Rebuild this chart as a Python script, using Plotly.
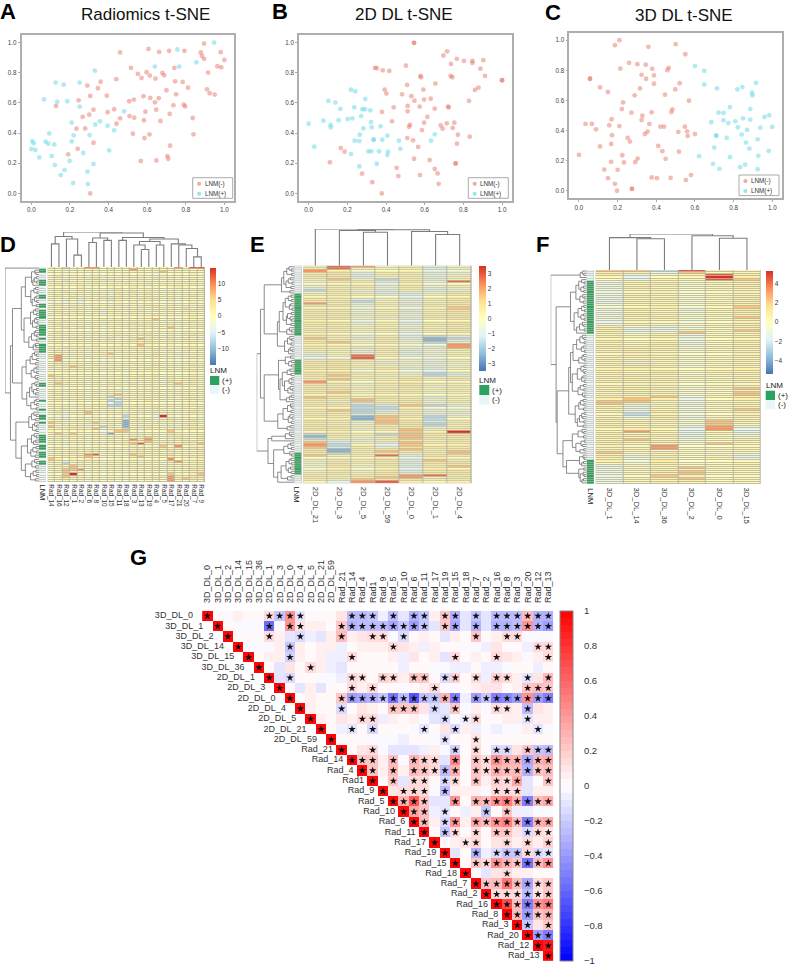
import plotly.graph_objects as go

W, H = 789, 966

# ---------- t-SNE data ----------
A_NEG = [(.895,.993),(.607,.958),(.46,.934),(.662,.938),(.714,.945),(.793,.945),(.878,.934),(.884,.912),(.895,.892),(.981,.936),(1.0,.885),(.964,.843),(.984,.836),(.916,.801),(.516,.832),(.741,.832),(.552,.792),(.597,.803),(.614,.781),(.571,.765),(.643,.761),(.679,.799),(.688,.783),(.745,.743),(.784,.739),(.812,.701),(.91,.69),(.924,.664),(.95,.655),(.359,.741),(.44,.757),(.345,.697),(.29,.715),(.305,.646),(.391,.648),(.245,.617),(.128,.58),(.322,.555),(.395,.538),(.429,.558),(.3,.522),(.266,.507),(.46,.498),(.507,.611),(.531,.622),(.581,.644),(.616,.633),(.66,.631),(.64,.604),(.7,.684),(.75,.657),(.736,.584),(.79,.588),(.797,.577),(.647,.555),(.591,.542),(.509,.513),(.533,.502),(.583,.485),(.669,.48),(.717,.527),(.836,.5),(.234,.429),(.279,.431),(.441,.462),(.526,.396),(.586,.367),(.612,.392),(.84,.392),(.322,.336),(.24,.296),(.191,.259),(.719,.316),(.705,.248),(.709,.23),(.567,.215),(.648,.219),(.305,0)]
A_POS = [(.947,1.0),(.757,.954),(.855,.869),(.64,.841),(.766,.841),(.329,.814),(.126,.735),(.167,.721),(.25,.735),(.066,.624),(.134,.608),(.186,.611),(.25,.575),(.481,.544),(.209,.469),(.355,.478),(.331,.456),(.395,.449),(.429,.418),(.219,.385),(.093,.398),(.302,.387),(.209,.345),(.005,.347),(.012,.332),(.074,.343),(.088,.33),(.119,.325),(0,.294),(.021,.288),(.041,.239),(.105,.248),(.403,.285),(.269,.268),(.122,.188),(.198,.215),(.322,.195),(.172,.155),(.152,.122),(.291,.144),(.216,.069),(.293,.062)]
B_NEG = [(.545,.998),(.545,.998),(.716,.942),(.697,.914),(.766,.892),(.736,.858),(.803,.878),(.847,.878),(.847,.865),(.903,.883),(.888,.827),(.912,.779),(1.0,.75),(1.0,.75),(.878,.701),(.86,.686),(.829,.613),(.343,.832),(.352,.83),(.383,.816),(.417,.812),(.503,.847),(.578,.779),(.581,.77),(.734,.779),(.743,.77),(.655,.728),(.509,.719),(.393,.688),(.402,.662),(.593,.688),(.483,.657),(.531,.644),(.547,.615),(.597,.622),(.631,.628),(.44,.571),(.512,.58),(.512,.544),(.574,.575),(.652,.562),(.721,.575),(.724,.571),(.379,.54),(.431,.478),(.614,.507),(.519,.442),(.524,.454),(.586,.42),(.597,.469),(.683,.451),(.714,.465),(.745,.434),(.753,.469),(.693,.429),(.772,.389),(.833,.376),(.51,.367),(.54,.352),(.566,.308),(.767,.33),(.166,.301),(.186,.277),(.545,.23),(.626,.221),(.11,.206),(.76,.199),(.76,.199),(.455,.17),(.652,.162),(.464,.115),(.576,.122),(.667,.133),(.276,.131),(.329,.075),(.672,.064),(.378,0)]
B_POS = [(.219,.688),(.241,.677),(.293,.626),(.102,.613),(.138,.602),(.164,.56),(.236,.571),(.278,.558),(.291,.558),(.319,.551),(.271,.513),(0,.462),(.076,.482),(.155,.485),(.202,.493),(.226,.498),(.114,.454),(.114,.438),(.322,.473),(.326,.438),(.283,.431),(.372,.445),(.264,.389),(.238,.35),(.262,.347),(.336,.356),(.336,.356),(.381,.356),(.407,.383),(.467,.35),(.633,.35),(.652,.392),(.474,.296),(.309,.279),(.324,.279),(.364,.279),(.41,.277),(.407,.254),(.029,.31),(.219,.261),(.352,.197),(.262,.179)]
C_NEG = [(.209,1.0),(.186,.967),(.359,.956),(.5,.974),(.55,.907),(.259,.85),(.302,.841),(.345,.837),(.214,.812),(.379,.81),(.464,.817),(.457,.801),(.324,.77),(.388,.766),(.347,.744),(.057,.744),(.057,.744),(.388,.711),(.521,.715),(.109,.687),(.316,.68),(.498,.673),(.15,.656),(.445,.638),(.288,.634),(.228,.587),(.569,.598),(.222,.543),(.271,.519),(.483,.541),(.478,.523),(.376,.521),(.328,.499),(.169,.475),(.324,.47),(.034,.444),(.067,.444),(.157,.435),(.209,.43),(.364,.444),(.088,.408),(.421,.426),(.44,.426),(.548,.426),(.559,.395),(.514,.391),(.355,.393),(.341,.377),(.562,.364),(.171,.369),(.6,.377),(.252,.351),(.264,.327),(.167,.311),(.41,.298),(.109,.294),(.431,.263),(0,.238),(.517,.26),(.224,.236),(.303,.214),(.166,.192),(.233,.188),(.291,.19),(.448,.212),(.131,.141),(.2,.139),(.15,.084),(.376,.088),(.403,.084),(.474,.086),(.579,.104),(.553,.071),(.186,.046),(.197,0),(.274,.013),(.274,.013)]
C_POS = [(.6,.828),(.648,.797),(.648,.706),(.714,.68),(.819,.673),(.845,.689),(.916,.717),(.895,.651),(.897,.634),(.781,.556),(.886,.543),(.722,.519),(.748,.517),(.684,.455),(.747,.468),(.772,.45),(.809,.461),(.848,.481),(.886,.472),(.96,.49),(.984,.501),(.822,.422),(.869,.404),(.938,.419),(1.0,.424),(.841,.373),(.71,.366),(.71,.366),(.764,.351),(.924,.342),(.864,.32),(.7,.287),(.881,.28),(.981,.265),(.928,.232),(.621,.23),(.781,.223),(.693,.179),(.726,.146),(.833,.157),(.859,.174),(.924,.143)]

# ---------- clustered heatmap data: one character per cell (see LEVELS) ----------
LEVELS = {'0':-.95,'1':-.75,'2':-.5,'3':-.27,'4':-.12,'5':.01,'6':.07,'7':.16,'8':.45,'9':.65,'a':.85,'b':1.0}

D_COLS = ["Rad_14","Rad_16","Rad_12","Rad_1","Rad_2","Rad_6","Rad_8","Rad_10","Rad_15","Rad_11","Rad_18","Rad_3","Rad_13","Rad_19","Rad_4","Rad_5","Rad_17","Rad_21","Rad_20","Rad_7","Rad_9"]
D_MAX = 14.8
D_ROWS = """66256 99456 56655 7596a a
55645 55565 59656 56465 6
65555 65655 56456 85656 5
56465 46565 65664 65657 6
47566 56456 46556 46555 4
56456 67465 56657 66567 5
65755 56736 57646 56656 6
46465 47556 65564 65466 5
57556 56465 46475 65657 6
65657 46566 57646 56765 4
46556 65437 56565 45466 7
56756 55646 47566 66555 6
65465 46657 56475 56645 5
47566 56456 66564 65567 6
56574 65737 46576 46456 5
65656 46475 65667 56665 4
46363 56546 57565 46457 6
57565 65657 46476 56656 5
46476 46564 65667 46565 7
65646 57556 46556 76474 6
56565 46456 66657 56567 6
47466 56366 57465 46566 5
65757 65656 46557 65656 4
46565 46565 65666 46467 6
56466 56737 46468 57565 6
65656 46466 56565 65657 5
47565 65656 47466 46466 6
56466 56456 65764 66556 7
65757 46565 46567 58657 6
46465 56466 57656 66465 5
57566 47566 46565 46566 7
65646 56456 65775 56467 6
46565 65636 46566 66556 5
56476 46575 56866 47465 6
65656 56465 67665 56566 4
47465 65666 46577 46467 6
56566 47556 65866 56556 5
65747 56466 47675 65667 6
46565 65565 56557 46456 7
57466 46656 65656 56565 5
56545 56685 46657 56346 5
79565 45665 56547 65665 6
79656 34565 46566 56467 4
59466 56455 65656 46456 6
46565 65646 57566 65565 5
57466 46565 46457 46667 6
65687 56456 65566 56456 7
46566 65665 46576 65565 5
56465 46447 56565 46467 6
65656 56565 46656 56556 4
87564 65346 65767 46467 6
76565 46565 46656 56556 5
56466 65656 56566 46567 6
57565 46465 65466 57656 5
68656 56576 47566 46867 6
47466 65656 56465 65756 4
56565 46465 46667 56466 7
65456 56657 65565 46656 5
46565 47466 56566 56465 6
57466 56468 46656 65766 5
65556 46525 65466 46456 6
46656 65632 56565 56567 5
57465 46523 46576 65456 6
66546 56632 65665 46667 4
45656 47622 56456 56456 6
56465 65633 46667 46565 7
65756 56465 56456 65656 5
47566 87465 65667 46467 6
56465 85656 46456 56556 5
54356 46565 27553 b6465 6
65656 46456 35664 57656 4
56465 65465 16465 46567 5
87465 68646 16456 65456 6
65656 47565 16566 46467 5
85566 45265 15665 56556 6
56465 58365 26466 46467 7
65656 56468 86455 68656 5
68685 57315 45656 57656 6
56465 46565 56456 56665 7
65656 56546 57686 46765 7
46565 46465 69796 56675 7
56566 46565 67786 66567 7
65656 56456 68a66 46566 8
56466 46655 67666 86967 7
47566 56465 56775 75767 6
65565 66556 46656 57565 7
46675 67465 57665 56656 6
56566 9a565 58766 67565 7
65657 86456 57866 56567 6
87565 76546 56456 59566 7
65356 46565 46566 57956 6
46256 56456 56465 46656 7
56586 46565 65656 56565 6
65785 56456 46566 46656 7
46889 46565 56456 56467 6
57876 65456 46565 46566 7
658b6 46565 65656 58667 8
46876 56456 46566 69677 7
56765 65465 56567 59687 6
65656 46565 46565 59656 6""".split("\n")
D_LNM_POS = [1,2,6,7,8,13,14,17,18,20,21,22,23,27,28,29,30,31,33,36,37,38,39,54,55,62,66,69,70,72,78,79,80,81,83,84,86,87,88,90,91]
D_GAPS = [100,12,9,22,8,14,7,18,40,10,15,6,24,9,13,7,20,8,52,11,16,7,25,9,13,6,19,8,44,10,14,8,22,7,30,11,9,17,78,13,8,20,7,26,10,38,9,15,7,23,11,6,50,12,8,21,7,16,10,28,36,9,14,7,24,8,84,15,9,22,10,30,13,7,19,9,68,14,8,22,10,16,34,9,18,7,24,11,52,13,8,21,10,40,9,17,7,25,11]
D_TOP_GAPS = [66,87,80,34,100,70,83,76,97,76,84.5,63,50,73,63,80,66,63,53,29]

E_COLS = ["2D_DL_21","2D_DL_3","2D_DL_5","2D_DL_59","2D_DL_0","2D_DL_1","2D_DL_4"]
E_MAX = 3.5
E_ROWS = """6a95635 6a65634 9745634 6736634 7736644 7735635 6842635 566374a 4663745 6664645
3664634 2743634 5643347 6663356 6755356 7634367 6725457 9636367 7745367 6636478
6756357 7645367 6736467 7646477 6754367 7636356 6745367 7656467 6745456 7667367
6756467 7645356 7646323 8637312 6756413 7857424 7646449 6574539 6647347 6536345
4546346 35a6346 34a6435 6765446 7763434 6756445 7765434 6757335 7746436 6765423
7856423 6765646 6855767 9657756 7746765 6656746 7766655 6757656 7846745 6766656
8757635 7686645 6485746 6737745 7623823 6622744 7823635 6723643 6636634 7618624
6718725 7648636 6658726 7646725 6757746 7646846 675687b 2662877 1657867 2546876
7336757 8353866 9263867 8364776 7167857 7168768 6267668 856a376 5667376 4657386
5666377 4757367 5646368 4757376 5646367 6757377 65679a6 7668967 6687766 639a767""".split()
E_LNM_POS = [13,14,15,16,17,18,19,20,21,22,23,24,25,26,27,28,29,30,31,43,44,45,46,47,48,49,86,87,88,89,90,91,92,93,94,95]
E_GAPS = [14,8,20,7,28,10,16,6,22,9,34,12,80,9,16,7,24,10,13,6,30,8,18,11,7,21,9,40,13,8,20,45,12,7,18,9,26,11,6,15,90,10,24,8,15,7,42,12,19,9,32,7,14,9,26,11,6,17,38,8,13,21,80,10,7,18,9,30,12,6,16,8,44,11,19,100,13,9,24,60,70,10,17,8,28,12,7,55,9,14,7,22,10,16,8,35,9,18,44]
E_TOP_GAPS = [100,96,91,98,93,85]

F_COLS = ["3D_DL_1","3D_DL_14","3D_DL_36","3D_DL_2","3D_DL_0","3D_DL_15"]
F_MAX = 5.3
F_ROWS = """882a76 773866 7366a7 6356b7 5366a8 466557 367467 466567 376467 466566
367467 466556 376467 367567 366457 376467 466567 467468 376367 466467
376557 476467 367558 476467 366457 476567 743467 733457 733768 746856
657356 767467 656356 766457 657356 767457 776467 677556 776467 677557
776467 667556 776467 636466 776557 677466 776567 657466 767567 676466
766657 677566 766457 677566 766467 677468 766557 677458 676468 768467
787357 886466 876367 636356 736467 646458 737367 627457 637367 757466
766587 676486 766486 767393 676393 696353 766363 677356 766363 686457
777456 766486 769556 669566 764556 867546 746563 737563 646463 747556
647456 366567 346866 467756 357856 467866 358756 467856 366756 467656""".split()
F_LNM_POS = [5,6,7,8,9,10,11,12,13,14,15,16,17,18,19,20,21,22,23,24,25,26,27,28,29,89,90,91,92,93,94,95,96,97,98,99]
F_GAPS = [12,8,18,100,14,7,22,9,16,8,30,11,7,19,10,45,8,14,6,24,9,16,7,35,12,8,20,7,28,85,12,8,19,7,28,10,15,6,38,9,13,7,22,45,8,16,10,6,26,11,14,7,40,9,18,8,24,12,7,50,10,17,8,22,9,32,7,14,11,20,8,26,10,82,13,8,24,9,40,7,16,11,30,8,19,66,10,7,20,9,14,56,8,22,10,7,18,9,13]
F_TOP_GAPS = [90,87,100,95,88]

# ---------- correlation matrix (percent, * = significant), upper triangle ----------
G_VARS = ["3D_DL_0","3D_DL_1","3D_DL_2","3D_DL_14","3D_DL_15","3D_DL_36","2D_DL_1","2D_DL_3","2D_DL_0","2D_DL_4","2D_DL_5","2D_DL_21","2D_DL_59","Rad_21","Rad_14","Rad_4","Rad1","Rad_9","Rad_5","Rad_10","Rad_6","Rad_11","Rad_17","Rad_19","Rad_15","Rad_18","Rad_7","Rad_2","Rad_16","Rad_8","Rad_3","Rad_20","Rad_12","Rad_13"]
G_ROWS = [
"100* 1 -2 5 3 3 15* -20* 40* -12* 3 3 3 12 -27* -25* -22* -5 -25* -10 -30* -20* 5 20* -30* -8 -20* -10 -25* -25* -25* 25* -30* -30*",
"100* 2 -2 -2 -2 -60* -2 40* 12* 8 8 3 20* -30* -28* -28* -25* -35* -22* -40* -20* -10 20* -35* -8 -30* -10 -30* -30* -27* 40* -30* -40*",
"100* 2 2 2 15* 6 -10 -15* -6 -12 8 25* 5 10 15* 15* -2 -15* 3 8 3 -10 8 3 20* 3 8 15* 13* -2 -3 -2",
"100* -2 -2 -2 8 -20* 5 2 5 5 -5 2 5 5 8 15* 10 8 -6 8 2 2 -2 -2 -5 12 3 3 -5 15* 15*",
"100* 2 5 5 -18* 5 2 5 -5 -5 13* 2 2 4 7 -6 12 2 6 -10 14* 2 6 2 14* 10 5 -2 5 14*",
"100* 2 -10 10 2 14* 5 -5 -10 2 2 1 1 2 -6 2 2 -1 -1 -5 -5 4 -6 -6 -4 1 1 -5 2",
"100* -8 -13* 3 3 -2 -2 -5 15* 12* 3 18* 15* 6 20* 20* 1 -15* 18* 3 15* -5 18* 14* 8 -12* 10 25*",
"100* 1 -10 5 -12 1 1 15* 5 15* 1 1 -3 2 8 15* -2 -1 3 6 10 10 2 5 20* 25* 20*",
"100* 2 6 3 2 20* -40* -35* -30* -20* -55* -25* -65* -25* -20* 30* -50* -5 -40* -20* -50* -45* -40* 40* -40* -50*",
"100* 8 3 1 -15* 2 10 5 3 20* 20* 20* 12 -15* -8 20* -3 6 -2 14* 12* 5 -25* 10 5",
"100* 5 2 10 6 15* 15* -5 8 2 8 -2 -10 -14* -1 -5* 14* 2 2 8 5 -12* 8 6",
"100* 2 -6 -12* 2 -14* 2 2 2 -2 -12* 1 10 -15* 7 -6 -2 -5 -2 -4 7 -10* -4",
"100* 1 1 1 -1 -1 -1 -5 2 2 -1 -12* 4 3 10* 1 2 2 2 1 3 1",
"100* 3 10 15* -2 -8 -8 -8 -5 8 -3 -18* 1 15* 1 -15* -15* 10 20* -20* -25*",
"100* 20* 20* 8 25* -1 30* 17* 15* -10 45* 3 22* 15* 40* 30* 30* -35* 30* 35*",
"100* 20* 6 25* 8 25* 20* 15* -25* 30* 2 22* 13* 30* 25* 25* -30* 20* 25*",
"100* 2 20* -8 15* 15* 2 -14* 15* 3 20* 8 18* 15* 35* -12 3 20*",
"100* 10 14* 15* 15* -1 -25* 8 8 5 -2 14* 14* 15* -10 7 5",
"100* 30* 65* 20* -8 -8 40* 3 30* 25* 40* 50* 30* -50* 25* 35*",
"100* 35* 25* -5 -12* 2 -7 7 -20* 2 20* -6 -5 -4 -1",
"100* 25* 5 -15* 40* 8 35* 25* 40* 50* 25* -50* 30* 35*",
"100* 1 -20* 15* 3 15* 1 20* 20* 10 -15* 15* 12*",
"100* 1 6 10* 15* 1 10 15* 5 15* 5 18*",
"100* -8 2 -30* -5 -15* -20* -20* 15* -15* -12*",
"100* 3 20* 15* 40* 30* 20* -55* 25* 40*",
"100* -1 -8 12 15* 6 5 3 3",
"100* 20* 25* 55* 25* -35* 15* 20*",
"100* 15* 15* 15* -25* 12* 20*",
"100* 70* 25* -50* 40* 50*",
"100* 25* -40* 20* 30*",
"100* -20* 10 20*",
"100* -40* -50*",
"100* 90*",
"100*",
]

# ---------- helpers ----------
fig = go.Figure()
layout = dict(width=W, height=H, margin=dict(l=0, r=0, t=0, b=0), paper_bgcolor="white", plot_bgcolor="rgba(0,0,0,0)", showlegend=False)
shapes, annos = [], []
axis_count = 0
FONT = "Liberation Sans, Arial, sans-serif"

def fx(p): return p / W
def fy(p): return 1 - p / H

def new_axes(box, xkw, ykw):
    global axis_count
    axis_count += 1
    k = axis_count
    s = "" if k == 1 else str(k)
    l, t, r, b = box
    base = dict(showgrid=False, zeroline=False, showline=False, ticks="", showticklabels=False)
    layout["xaxis" + s] = {**base, "domain": [fx(l), fx(r)], "anchor": "y" + s, **xkw}
    layout["yaxis" + s] = {**base, "domain": [fy(b), fy(t)], "anchor": "x" + s, **ykw}
    return "x" + s, "y" + s

def text(x, y, s, size, anchor="left", bold=False, color="#222", angle=0, yanchor="middle"):
    annos.append(dict(text=("<b>%s</b>" % s) if bold else s, x=fx(x), y=fy(y), xref="paper", yref="paper", showarrow=False,
                      xanchor=anchor, yanchor=yanchor, textangle=angle, font=dict(size=size, family=FONT, color=color),
                      borderpad=0, borderwidth=0))

def rect(box, fill="rgba(0,0,0,0)", line=None, width=1, layer="below", kind="rect"):
    l, t, r, b = box
    shapes.append(dict(type=kind, xref="paper", yref="paper", x0=fx(l), x1=fx(r), y0=fy(b), y1=fy(t), fillcolor=fill,
                       line=dict(color=line or "rgba(0,0,0,0)", width=width if line else 0), layer=layer))

def cluster(gaps, lo, hi, pos_x, pos_y):
    """Walk ordered-leaf merge heights; returns (position, height) of the node."""
    if lo == hi:
        return lo, 0.0
    seg = gaps[lo:hi]
    m = lo + max(range(len(seg)), key=lambda i: seg[i])
    p1, h1 = cluster(gaps, lo, m, pos_x, pos_y)
    p2, h2 = cluster(gaps, m + 1, hi, pos_x, pos_y)
    h = gaps[m] / 100
    pos_x += [h1, h, h, h2, None]
    pos_y += [p1, p1, p2, p2, None]
    return (p1 + p2) / 2, h

def dendro_left(box, gaps, n):
    hs, ps = [], []
    cluster(gaps, 0, n - 1, hs, ps)
    xa, ya = new_axes(box, dict(range=[1.0, 0]), dict(range=[n - .5, -.5]))
    fig.add_trace(go.Scatter(x=hs, y=ps, mode="lines", line=dict(color="#6e6e6e", width=.8), xaxis=xa, yaxis=ya, hoverinfo="skip"))

def dendro_top(box, gaps, n):
    hs, ps = [], []
    cluster(gaps, 0, n - 1, hs, ps)
    xa, ya = new_axes(box, dict(range=[-.5, n - .5]), dict(range=[0, 1.0]))
    fig.add_trace(go.Scatter(x=ps, y=hs, mode="lines", line=dict(color="#7d7d7d", width=1.1), xaxis=xa, yaxis=ya, hoverinfo="skip"))

PH = [[0, "#4575B4"], [1/6, "#91BFDB"], [2/6, "#E0F3F8"], [.5, "#FFFFBF"], [4/6, "#FEE090"], [5/6, "#FC8D59"], [1, "#D73027"]]
GRID = "#b8b5a0"

def clustermap(rows, cols, vmax, lnm_pos, gaps, top_gaps, hm, bar, left, top, cb, ticks, label_size, tick_len, lnm_label, lnm_leg):
    rows = [r.replace(" ", "") for r in rows]
    z = [[LEVELS[c] * vmax for c in r] for r in rows]
    n = len(rows)
    rect(hm, fill=GRID)
    rect(bar, fill=GRID)
    xa, ya = new_axes(hm, dict(range=[-.5, len(cols) - .5], showticklabels=True, tickmode="array", tickvals=list(range(len(cols))),
                               ticktext=cols, tickangle=90, ticks="outside", ticklen=tick_len, tickcolor="rgba(0,0,0,0)",
                               tickfont=dict(size=label_size, family=FONT, color="#333")),
                      dict(range=[n - .5, -.5]))
    fig.add_trace(go.Heatmap(z=z, colorscale=PH, zmin=-vmax, zmax=vmax, xgap=1, ygap=.85, xaxis=xa, yaxis=ya, hoverinfo="skip",
                             colorbar=dict(x=fx(cb[0]), y=fy(cb[1]), xanchor="left", yanchor="top", xpad=0, ypad=0,
                                           thicknessmode="pixels", thickness=cb[2] - cb[0], lenmode="pixels", len=cb[3] - cb[1],
                                           outlinewidth=0, tickmode="array", tickvals=ticks, ticks="outside", ticklen=1,
                                           tickcolor="rgba(0,0,0,0)", tickfont=dict(size=6.5, family=FONT, color="#333"))))
    xa, ya = new_axes(bar, dict(range=[-.5, .5]), dict(range=[n - .5, -.5]))
    lz = [[1 if i in lnm_pos else 0] for i in range(n)]
    fig.add_trace(go.Heatmap(z=lz, colorscale=[[0, "#EAF5F9"], [1, "#2CA25F"]], zmin=0, zmax=1, showscale=False, ygap=.6, xaxis=xa, yaxis=ya, hoverinfo="skip"))
    dendro_left(left, gaps, n)
    dendro_top(top, top_gaps, len(cols))
    text(lnm_label[0], lnm_label[1], "LNM", 7.5, anchor="center", angle=90, yanchor="top", color="#222")
    x0, y0, x1, ym, y1, tx = lnm_leg
    text(x0, y0 - 5, "LNM", 8)
    rect((x0, y0, x1, ym), fill="#2CA25F", layer="above")
    rect((x0, ym, x1, y1), fill="#EAF5F9", layer="above")
    text(tx, (y0 + ym) / 2, "(+)", 8)
    text(tx, (ym + y1) / 2, "(-)", 8)

def scatter_panel(box, neg, pos, title, tx, ty, leg):
    tf = dict(size=6.3, family=FONT, color="#444")
    ticks = [0, .2, .4, .6, .8, 1.0]
    common = dict(range=[-.05, 1.05], showline=True, mirror=True, linecolor="#aeaeae", linewidth=1.6, showticklabels=True, tickmode="array",
                  tickvals=ticks, ticktext=["%.1f" % t for t in ticks], tickfont=tf, ticks="outside", ticklen=2, tickcolor="#aaa", tickwidth=.6)
    xa, ya = new_axes(box, dict(common), dict(common))
    fig.add_trace(go.Scatter(x=[p[0] for p in neg], y=[p[1] for p in neg], mode="markers", name="LNM(-)", xaxis=xa, yaxis=ya,
                             marker=dict(size=4.8, color="rgba(229,120,105,.5)", line=dict(width=0))))
    fig.add_trace(go.Scatter(x=[p[0] for p in pos], y=[p[1] for p in pos], mode="markers", name="LNM(+)", xaxis=xa, yaxis=ya,
                             marker=dict(size=4.8, color="rgba(112,218,230,.55)", line=dict(width=0))))
    text(tx, ty, title, 17, anchor="center", color="#111")
    l, t = leg
    rect((l, t, l + 40, t + 20.6), fill="white", line="#aaaaaa", width=1, layer="above")
    rect((l + 4.3, t + 4, l + 8.5, t + 8.2), fill="rgba(229,120,105,.6)", layer="above", kind="circle")
    rect((l + 4.3, t + 14, l + 8.5, t + 18.2), fill="rgba(112,218,230,.7)", layer="above", kind="circle")
    text(l + 12, t + 6.3, "LNM(-)", 6.3, color="#333")
    text(l + 12, t + 16, "LNM(+)", 6.3, color="#333")

# ---------- panels A-C ----------
scatter_panel((21.7, 35, 234, 201), A_NEG, A_POS, "Radiomics t-SNE", 145, 15, (192.7, 177.7))
scatter_panel((299, 35, 511.7, 201), B_NEG, B_POS, "2D DL t-SNE", 404, 15, (468.3, 177.7))
scatter_panel((569.3, 32.7, 782, 198.3), C_NEG, C_POS, "3D DL t-SNE", 684, 16, (739, 175))

# ---------- panels D-F ----------
clustermap(D_ROWS, D_COLS, D_MAX, D_LNM_POS, D_GAPS, D_TOP_GAPS, (47.7, 267, 205, 482), (39, 267, 46, 482), (5, 267, 39, 482), (47.7, 232, 205, 267),
           (210, 267.7, 216.3, 365), [-10, -5, 0, 5, 10], 6.4, 0, (42.5, 484), (210, 376, 219.3, 385, 394, 221.7))
clustermap(E_ROWS, E_COLS, E_MAX, E_LNM_POS, E_GAPS, E_TOP_GAPS, (303.3, 265.7, 471.7, 483.3), (294.3, 265.7, 301.7, 483.3), (256.7, 265.7, 294.3, 483.3), (303.3, 229, 471.7, 265.7),
           (479, 266, 486, 370.7), [-3, -2, -1, 0, 1, 2, 3], 7.6, 1, (297.3, 487), (479.3, 385, 489.3, 395, 404.7, 492))
clustermap(F_ROWS, F_COLS, F_MAX, F_LNM_POS, F_GAPS, F_TOP_GAPS, (595.7, 270, 760.7, 484), (586.7, 270, 594, 484), (550.7, 270, 586.7, 484), (595.7, 234, 760.7, 270),
           (765.7, 270.7, 772.7, 373.3), [-4, -2, 0, 2, 4], 7.6, 1, (590.7, 488), (765.7, 390.7, 775, 400, 409.3, 777.7))

# ---------- panel G ----------
nv = len(G_VARS)
gz = [[None] * nv for _ in range(nv)]
sx, sy = [], []
for i, row in enumerate(G_ROWS):
    for j, tok in enumerate(row.split()):
        gz[i][i + j] = int(tok.rstrip("*")) / 100
        if tok.endswith("*"):
            sx.append(i + j)
            sy.append(i)
BANDS = 50
BWR = []
for b in range(BANDS):
    t = (b + .5) / BANDS
    c = "rgb(255,%d,%d)" % ((2 - 2 * t) * 255, (2 - 2 * t) * 255) if t >= .5 else "rgb(%d,%d,255)" % (2 * t * 255, 2 * t * 255)
    BWR += [[b / BANDS, c], [(b + 1) / BANDS, c]]
PAD = 3
pitch = (553.5 - 202.2) / nv
xa, ya = new_axes((202.2 - PAD * pitch, 610.8, 553.5, 961.2),
                  dict(range=[-.5 - PAD, nv - .5], side="top", showticklabels=True, tickmode="array", tickvals=list(range(nv)), ticktext=G_VARS,
                       tickangle=-90, ticks="outside", ticklen=5, tickcolor="rgba(0,0,0,0)", tickfont=dict(size=9, family=FONT, color="#333")),
                  dict(range=[nv - .5, -.5]))
cbt = [1, .8, .6, .4, .2, 0, -.2, -.4, -.6, -.8, -1]
fig.add_trace(go.Heatmap(z=gz, colorscale=BWR, zmin=-1, zmax=1, xaxis=xa, yaxis=ya, hoverongaps=False,
                         colorbar=dict(x=fx(560), y=fy(610.7), xanchor="left", yanchor="top", xpad=0, ypad=0, thicknessmode="pixels", thickness=13,
                                       lenmode="pixels", len=350.3, outlinewidth=1, outlinecolor="#888", tickmode="array",
                                       tickvals=[max(v, -.997) for v in cbt],
                                       ticktext=[("%g" % v).replace("-", "\u2212") for v in cbt], ticks="outside", ticklen=9,
                                       tickcolor="rgba(0,0,0,0)", tickfont=dict(size=9.5, family=FONT, color="#333"))))
fig.add_trace(go.Scatter(x=sx, y=sy, mode="markers", marker=dict(symbol="star", size=5.6, color="#111", line=dict(width=0)), xaxis=xa, yaxis=ya, hoverinfo="skip"))
gap = [1.15 if v[0] in "23" else .6 for v in G_VARS]
fig.add_trace(go.Scatter(x=[i - .5 - gap[i] + .25 for i in range(nv)], y=list(range(nv)), mode="text", text=G_VARS, textposition="middle left",
                         textfont=dict(size=9, family=FONT, color="#333"), xaxis=xa, yaxis=ya, hoverinfo="skip", cliponaxis=False))

# ---------- panel letters ----------
for s, x, y in [("A", 0, 11), ("B", 272, 11), ("C", 545, 12), ("D", 0, 244), ("E", 250, 244), ("F", 536, 244), ("G", 130, 557)]:
    text(x, y, s, 22, bold=True, color="#000")

layout["shapes"] = shapes
layout["annotations"] = annos
fig.update_layout(**layout)
fig.write_html("out.html", config={"displayModeBar": False}, post_script="document.body.style.margin='0';")
